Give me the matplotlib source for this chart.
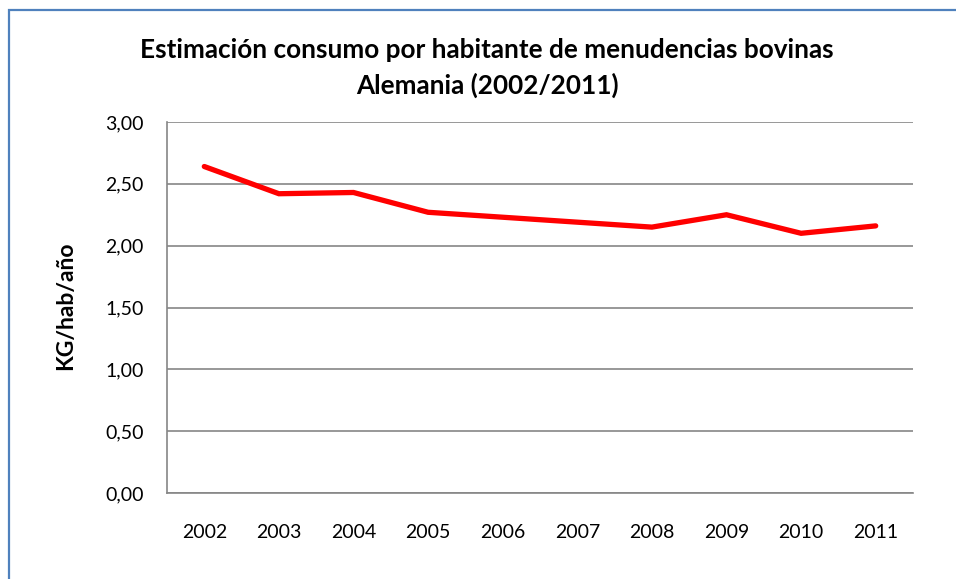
import numpy as np
import matplotlib.pyplot as plt
from matplotlib.patches import Rectangle

years = ["2002", "2003", "2004", "2005", "2006", "2007", "2008", "2009", "2010", "2011"]
consumo = [2.64, 2.42, 2.43, 2.27, 2.23, 2.19, 2.15, 2.25, 2.10, 2.16]
yticks = [0.0, 0.5, 1.0, 1.5, 2.0, 2.5, 3.0]

plt.rcParams['font.family'] = ['Lato', 'DejaVu Sans']

fig = plt.figure(figsize=(9.56, 5.79), dpi=100)
# chart frame, only its top and left edges fall inside the image
fig.patches.append(Rectangle((9 / 956, -0.05), 1.1, (579 - 10) / 579 + 0.05,
                             transform=fig.transFigure, fill=False,
                             edgecolor='#4F81BD', linewidth=1.6))

ax = fig.add_axes([167 / 956, 86 / 579, 746 / 956, 371 / 579])
x = np.arange(len(years))
ax.plot(x, consumo, color='#FF0000', linewidth=3.8, solid_capstyle='round',
        solid_joinstyle='miter', zorder=3)

ax.set_xlim(-0.5, len(years) - 0.5)
ax.set_ylim(0, 3.0)
ax.set_yticks(yticks)
ax.set_yticklabels([f"{v:.2f}".replace('.', ',') for v in yticks], fontsize=14)
ax.set_xticks(x)
ax.set_xticklabels(years, fontsize=14)
ax.tick_params(axis='both', length=0)
ax.tick_params(axis='y', pad=17)
ax.tick_params(axis='x', pad=22)
ax.grid(axis='y', color='#868686', linewidth=1.2)
ax.set_axisbelow(True)
for side in ['top', 'right']:
    ax.spines[side].set_visible(False)
for side in ['left', 'bottom']:
    ax.spines[side].set_color('#868686')
    ax.spines[side].set_linewidth(1.2)

fig.text(66 / 956, 1 - 306 / 579, "KG/hab/año", rotation=90, ha='center', va='center',
         fontsize=16.5, fontweight='bold')
fig.text(487 / 956, 1 - 50 / 579, "Estimación consumo por habitante de menudencias bovinas",
         ha='center', va='center', fontsize=18.8, fontweight='bold')
fig.text(487 / 956, 1 - 85 / 579, "Alemania (2002/2011)",
         ha='center', va='center', fontsize=18.8, fontweight='bold')

fig.savefig('out.png', dpi=100)
